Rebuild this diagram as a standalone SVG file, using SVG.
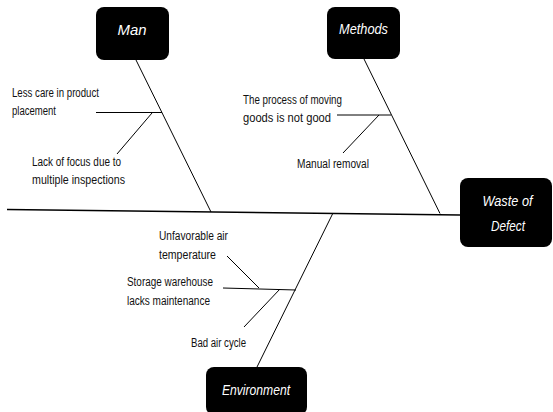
<svg xmlns="http://www.w3.org/2000/svg" width="553" height="412" viewBox="0 0 553 412">
  <style>
    .box { fill: #000; }
    .title { fill: #fff; font-family: "Liberation Sans", Arial, sans-serif; font-style: italic; font-size: 14px; text-anchor: middle; }
    .cause { fill: #111; font-family: "Liberation Sans", Arial, sans-serif; font-size: 12px; }
    .bone { stroke: #000; stroke-width: 1; fill: none; }
    .spine { stroke: #000; stroke-width: 1.4; fill: none; }
  </style>
  <rect width="553" height="412" fill="#fff"/>

  <!-- connectors: spine, category bones and cause ribs -->
  <g id="connectors">
    <line class="spine" x1="7" y1="209.5" x2="460" y2="215"/>
    <!-- Man -->
    <line class="bone" x1="136" y1="60" x2="211" y2="212"/>
    <line class="bone" x1="96" y1="112.5" x2="162" y2="112.5"/>
    <line class="bone" x1="152" y1="113" x2="117" y2="154"/>
    <!-- Methods -->
    <line class="bone" x1="364" y1="59" x2="440" y2="213.5"/>
    <line class="bone" x1="337" y1="115" x2="391" y2="115"/>
    <line class="bone" x1="379" y1="115" x2="343" y2="153"/>
    <!-- Environment -->
    <line class="bone" x1="333" y1="213" x2="257" y2="367"/>
    <line class="bone" x1="223" y1="288" x2="296" y2="290"/>
    <line class="bone" x1="227" y1="256" x2="259" y2="288"/>
    <line class="bone" x1="280" y1="289" x2="244" y2="327"/>
  </g>

  <g id="man">
    <rect class="box" x="96" y="7" width="73" height="53" rx="8"/>
    <text class="title" x="132" y="35" textLength="29" lengthAdjust="spacingAndGlyphs">Man</text>
  </g>

  <g id="methods">
    <rect class="box" x="327" y="7" width="73" height="52" rx="8"/>
    <text class="title" x="363.5" y="33.5" textLength="49" lengthAdjust="spacingAndGlyphs">Methods</text>
  </g>

  <g id="waste-of-defect">
    <rect class="box" x="460" y="178" width="92" height="69" rx="8"/>
    <text class="title" x="507.5" y="205.5" textLength="50" lengthAdjust="spacingAndGlyphs">Waste of</text>
    <text class="title" x="508" y="231" textLength="34" lengthAdjust="spacingAndGlyphs">Defect</text>
  </g>

  <g id="environment">
    <rect class="box" x="206" y="367" width="101" height="48" rx="8"/>
    <text class="title" x="256" y="395" textLength="68" lengthAdjust="spacingAndGlyphs">Environment</text>
  </g>

  <g id="man-causes">
    <text class="cause" x="12" y="96.5" textLength="87" lengthAdjust="spacingAndGlyphs">Less care in product</text>
    <text class="cause" x="12" y="114.5" textLength="44" lengthAdjust="spacingAndGlyphs">placement</text>
    <text class="cause" x="32" y="166" textLength="89" lengthAdjust="spacingAndGlyphs">Lack of focus due to</text>
    <text class="cause" x="32" y="184" textLength="93" lengthAdjust="spacingAndGlyphs">multiple inspections</text>
  </g>

  <g id="methods-causes">
    <text class="cause" x="243" y="104" textLength="99" lengthAdjust="spacingAndGlyphs">The process of moving</text>
    <text class="cause" x="243" y="121.5" textLength="88" lengthAdjust="spacingAndGlyphs">goods is not good</text>
    <text class="cause" x="297" y="168" textLength="72" lengthAdjust="spacingAndGlyphs">Manual removal</text>
  </g>

  <g id="environment-causes">
    <text class="cause" x="159" y="239.5" textLength="69" lengthAdjust="spacingAndGlyphs">Unfavorable air</text>
    <text class="cause" x="159" y="259" textLength="57" lengthAdjust="spacingAndGlyphs">temperature</text>
    <text class="cause" x="127" y="285.5" textLength="86" lengthAdjust="spacingAndGlyphs">Storage warehouse</text>
    <text class="cause" x="127" y="304.5" textLength="83" lengthAdjust="spacingAndGlyphs">lacks maintenance</text>
    <text class="cause" x="191" y="346.5" textLength="55" lengthAdjust="spacingAndGlyphs">Bad air cycle</text>
  </g>
</svg>
